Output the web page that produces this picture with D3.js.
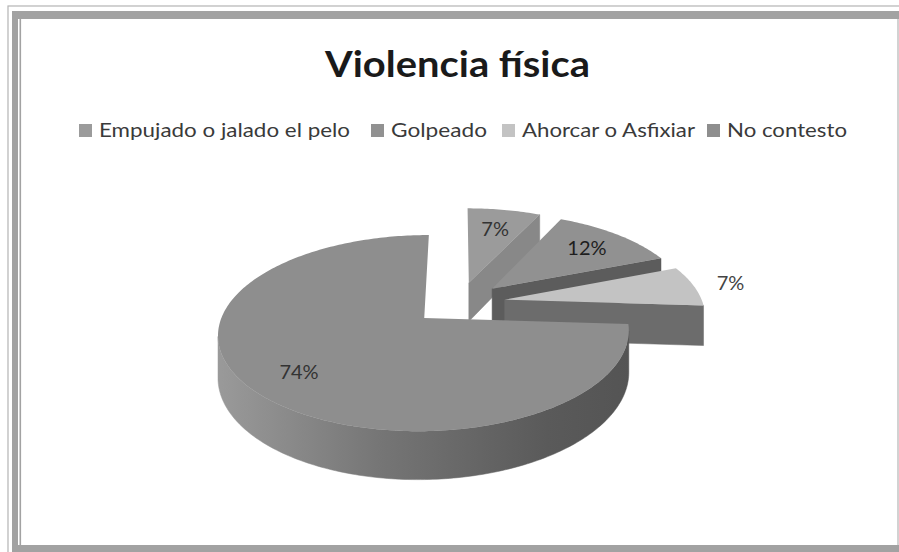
<!DOCTYPE html>
<html>
<head>
<meta charset="utf-8">
<script src="https://cdn.jsdelivr.net/npm/d3@7"></script>
<style>
    body { margin:0; background:#fff; }
    svg { display:block; font-family: Lato, "Open Sans", sans-serif; }
</style>
</head>
<body>
<svg id="chart" width="899" height="552"></svg>
<script>
    // data
    var title = "Violencia física";
    var categories = ["Empujado o jalado el pelo", "Golpeado", "Ahorcar o Asfixiar", "No contesto"];
    var values = [7, 12, 7, 74];
    var labels = ["7%", "12%", "7%", "74%"];

    // styles
    var topColors = ["#9b9b9b", "#919191", "#c3c3c3", "#8e8e8e"];
    var faceColors = ["#888888", "#5c5c5c", "#6c6c6c", "#7a7a7a"];
    var labelColors = ["#333", "#1e1e1e", "#444", "#333"];
    var labelRadius = [0.72, 0.74, 1.2, 0.76];
    var legendX = [79, 371, 502, 707];
    var legendW = [251, 96, 173, 120];

    // fake 3d projection of the pie plane
    var X0 = 459, Y0 = 303, SX = 198, SY = 91.2, K = 0.15, H = 40, EXPLODE = 0.235;

    function proj(u, v, h) {
        var w = 1 - K * v;
        return [X0 + SX * u / w, Y0 + (SY * v + h) / w];
    }
    function area(pts) {
        var s = 0;
        for (var i = 0; i < pts.length; i++) {
            var a = pts[i], b = pts[(i + 1) % pts.length];
            s += a[0] * b[1] - b[0] * a[1];
        }
        return s / 2;
    }
    function poly(pts) {
        return "M" + pts.map(function(p){ return p[0].toFixed(2) + "," + p[1].toFixed(2); }).join("L") + "Z";
    }

    var svg = d3.select("#chart");

    // frame
    svg.append("rect").attr("x", 8).attr("y", 6).attr("width", 899).attr("height", 560)
        .attr("fill", "none").attr("stroke", "#b4b4b4").attr("stroke-width", 1.2);
    svg.append("rect").attr("x", 12).attr("y", 11).attr("width", 887).attr("height", 8).attr("fill", "#a2a2a2");
    svg.append("rect").attr("x", 12).attr("y", 11).attr("width", 6).attr("height", 541).attr("fill", "#a2a2a2");
    svg.append("rect").attr("x", 12).attr("y", 545).attr("width", 887).attr("height", 7).attr("fill", "#a2a2a2");
    svg.append("rect").attr("x", 19.5).attr("y", 19).attr("width", 1.6).attr("height", 526).attr("fill", "#a2a2a2");
    svg.append("rect").attr("x", 897).attr("y", 19).attr("width", 2).attr("height", 526).attr("fill", "#d2d2d2");

    // title
    svg.append("text").attr("x", 325).attr("y", 77)
        .attr("font-size", 36).attr("font-weight", "bold").attr("fill", "#1a1a1a")
        .attr("textLength", 265).attr("lengthAdjust", "spacingAndGlyphs")
        .text(title);

    // legend
    var leg = svg.append("g").selectAll("g").data(categories).enter().append("g");
    leg.append("rect").attr("x", function(d, i){ return legendX[i]; }).attr("y", 124)
        .attr("width", 13).attr("height", 13).attr("fill", function(d, i){ return topColors[i]; });
    leg.append("text").attr("x", function(d, i){ return legendX[i] + 20; }).attr("y", 137)
        .attr("font-size", 20).attr("fill", "#3a3a3a")
        .attr("textLength", function(d, i){ return legendW[i]; }).attr("lengthAdjust", "spacingAndGlyphs")
        .text(function(d){ return d; });

    // side gradient
    var grad = svg.append("defs").append("linearGradient").attr("id", "sideGrad")
        .attr("gradientUnits", "userSpaceOnUse").attr("x1", 217).attr("x2", 630).attr("y1", 0).attr("y2", 0);
    grad.append("stop").attr("offset", 0).attr("stop-color", "#9a9a9a");
    grad.append("stop").attr("offset", 0.4).attr("stop-color", "#757575");
    grad.append("stop").attr("offset", 0.8).attr("stop-color", "#5a5a5a");
    grad.append("stop").attr("offset", 1).attr("stop-color", "#545454");

    var arcs = d3.pie().sort(null).value(function(d){ return d; })(values);
    var pieG = svg.append("g");

    arcs.forEach(function(a, i) {
        var mid = (a.startAngle + a.endAngle) / 2;
        var ou = EXPLODE * Math.sin(mid), ov = -EXPLODE * Math.cos(mid);
        function p(r, th, h) { return proj(ou + r * Math.sin(th), ov - r * Math.cos(th), h); }
        var n = Math.max(2, Math.ceil((a.endAngle - a.startAngle) / (Math.PI / 180)));
        var ths = d3.range(n + 1).map(function(k){ return a.startAngle + (a.endAngle - a.startAngle) * k / n; });
        var g = pieG.append("g");
        var sideFill = i === 3 ? "url(#sideGrad)" : faceColors[i];

        // outer wall, only the parts turned to the viewer
        var run = [];
        function flush() {
            if (run.length > 1) {
                var pts = run.map(function(t){ return p(1, t, 0); })
                    .concat(run.slice().reverse().map(function(t){ return p(1, t, H); }));
                g.append("path").attr("d", poly(pts)).attr("fill", sideFill)
                    .attr("stroke", sideFill).attr("stroke-width", 0.5);
            }
            run = [];
        }
        for (var k = 0; k < n; k++) {
            var q = [p(1, ths[k], 0), p(1, ths[k + 1], 0), p(1, ths[k + 1], H), p(1, ths[k], H)];
            if (area(q) < 0) {
                if (!run.length) run.push(ths[k]);
                run.push(ths[k + 1]);
            } else flush();
        }
        flush();

        // radial cut faces (skip the near edge-on slivers)
        var faces = [
            [p(0, 0, 0), p(1, a.startAngle, 0), p(1, a.startAngle, H), p(0, 0, H)],
            [p(1, a.endAngle, 0), p(0, 0, 0), p(0, 0, H), p(1, a.endAngle, H)]
        ];
        faces.forEach(function(f) {
            if (area(f) < -300) {
                g.append("path").attr("d", poly(f)).attr("fill", faceColors[i])
                    .attr("stroke", faceColors[i]).attr("stroke-width", 0.5);
            }
        });

        // top
        var topPts = [p(0, 0, 0)].concat(ths.map(function(t){ return p(1, t, 0); }));
        g.append("path").attr("d", poly(topPts)).attr("fill", topColors[i]);
    });

    // data labels
    arcs.forEach(function(a, i) {
        var mid = (a.startAngle + a.endAngle) / 2;
        var r = EXPLODE + labelRadius[i];
        var pt = proj(r * Math.sin(mid), -r * Math.cos(mid), 0);
        svg.append("text").attr("x", pt[0]).attr("y", pt[1]).attr("dy", "0.36em")
            .attr("text-anchor", "middle").attr("font-size", 20).attr("fill", labelColors[i])
            .text(labels[i]);
    });
</script>
</body>
</html>
